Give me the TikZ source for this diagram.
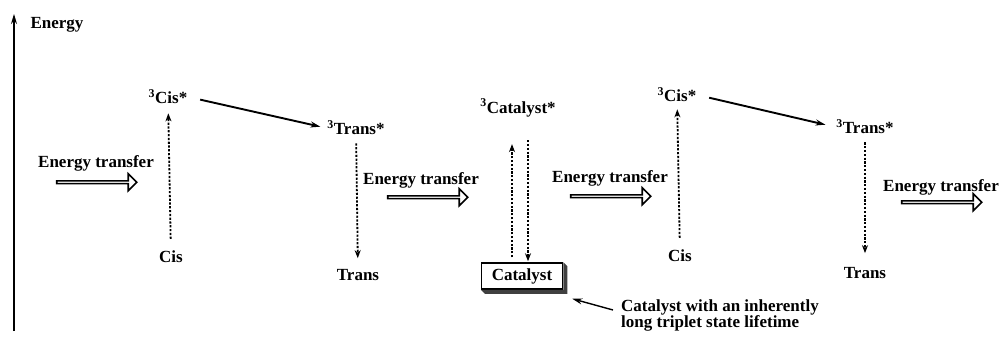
\documentclass[tikz,border=0pt]{standalone}
\usepackage{fontspec}
\setmainfont{Liberation Serif}
\usetikzlibrary{positioning, arrows.meta, shapes.arrows}

\begin{document}
\begin{tikzpicture}[
  x=1pt, y=-1pt,
  font=\fontsize{17}{17}\selectfont\bfseries, >={Stealth[length=10pt, width=6pt]},
  lvl/.style={inner sep=1pt},
  hollow/.style={draw, single arrow, line width=1.6pt, minimum width=17pt, minimum height=80pt, single arrow head extend=4pt, inner sep=0pt},
  jump/.style={line width=1.8pt, dash pattern=on 2.2pt off 1.6pt, -{Stealth[length=8pt, width=6pt]}},
  pro/.style={line width=1.9pt, ->},
  catbox/.style={draw, line width=1.5pt, fill=white, minimum width=81pt, minimum height=26pt, inner sep=2pt},
]
  \useasboundingbox (0,0) rectangle (999,337);
  % energy axis
  \coordinate (e0) at (14,331); \coordinate (e1) at (14,14);
  \draw[line width=1.4pt, ->] (e0) -- (e1);
  \node[lvl] (elab) at (57,25) {Energy};

  % levels
  \node[lvl] (cisT1) at (168,97) {\textsuperscript{3}Cis*};
  \node[lvl] (cis1) at (171,257) {Cis};
  \node[lvl] (trT1) at (356,128) {\textsuperscript{3}Trans*};
  \node[lvl] (tr1) at (358,275) {Trans};
  \node[lvl] (catT) at (518,108) {\textsuperscript{3}Catalyst*};
  \node[catbox] (cat) at (522,276) {Catalyst};
  \node[lvl] (cisT2) at (677,95) {\textsuperscript{3}Cis*};
  \node[lvl] (cis2) at (680,256) {Cis};
  \node[lvl] (trT2) at (865,127) {\textsuperscript{3}Trans*};
  \node[lvl] (tr2) at (865,273) {Trans};
  \fill[black!75] (cat.north east) -- ++(4,4) -- ([shift={(4,4)}]cat.south east) -- ([shift={(4,4)}]cat.south west) -- (cat.south west) -- (cat.south east) -- cycle;

  % energy transfer
  \node[lvl] (et1) at (96,163) {Energy transfer};
  \node[lvl] (et2) at (421,180) {Energy transfer};
  \node[lvl] (et3) at (610,178) {Energy transfer};
  \node[lvl] (et4) at (941,187) {Energy transfer};
  \node[hollow, below=8pt of et1] (ha1) {};
  \node[hollow, below=6pt of et2, xshift=6pt] (ha2) {};
  \node[hollow, below=7pt of et3] (ha3) {};
  \node[hollow, below=4pt of et4] (ha4) {};

  \node[lvl, align=left, anchor=west] (note) at (620,315) {Catalyst with an inherently\\[-1pt]long triplet state lifetime};

  \draw[jump, shorten <=11pt, shorten >=8pt] (cis1) -- (cisT1);
  \draw[jump, shorten <=7pt, shorten >=10pt] (trT1) -- (tr1);
  \draw[jump, shorten <=5pt, shorten >=26pt] ([xshift=-10pt]cat.north) -- ([xshift=-10pt]cat.north |- catT.south);
  \draw[jump, shorten <=22pt, shorten >=1pt] ([xshift=6pt]cat.north |- catT.south) -- ([xshift=6pt]cat.north);
  \draw[jump, shorten <=11pt, shorten >=6pt] (cis2) -- (cisT2);
  \draw[jump, shorten <=7pt, shorten >=13pt] (trT2) -- (tr2);
  \draw[pro, shorten <=12pt, shorten >=6pt] (cisT1.east) -- (trT1.west);
  \draw[pro, shorten <=12pt, shorten >=10pt] (cisT2.east) -- (trT2.west);
  \draw[line width=1.4pt, ->] ([shift={(-7,-5)}]note.west) -- ([shift={(9,9)}]cat.south east);
\end{tikzpicture}
\end{document}
